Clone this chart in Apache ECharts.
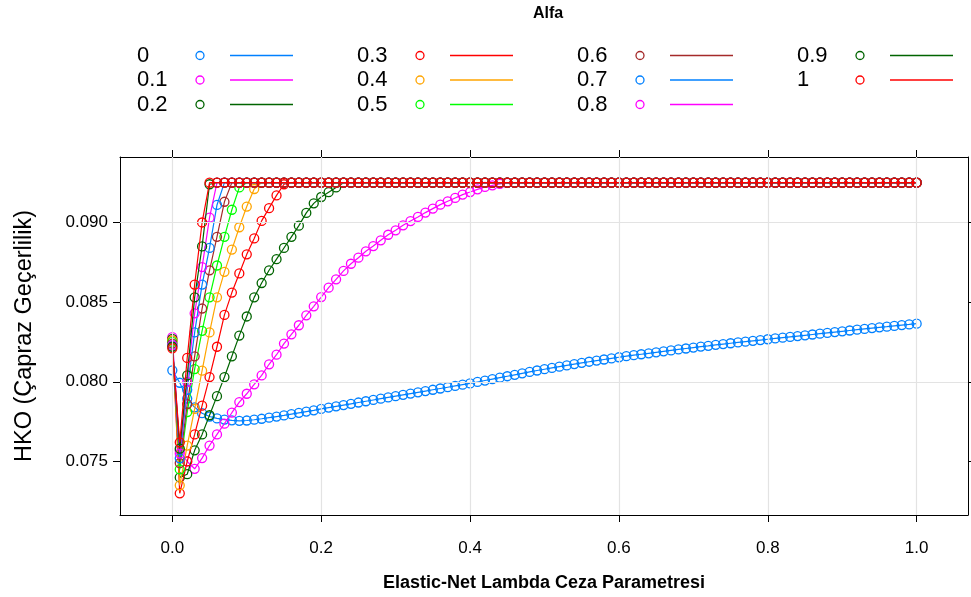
<!DOCTYPE html>
<html>
<head>
<meta charset="utf-8">
<script src="https://cdn.jsdelivr.net/npm/echarts@6/dist/echarts.min.js"></script>
<style>
  html, body { margin: 0; padding: 0; background: #ffffff; }
  #chart { width: 971px; height: 597px; }
</style>
</head>
<body>
<div id="chart"></div>
<script>
// Lambda grid of the elastic-net tuning run
const lambdaGrid = [
  0.00, 0.01, 0.02, 0.03, 0.04, 0.05, 0.06, 0.07, 0.08, 0.09,
  0.10, 0.11, 0.12, 0.13, 0.14, 0.15, 0.16, 0.17, 0.18, 0.19,
  0.20, 0.21, 0.22, 0.23, 0.24, 0.25, 0.26, 0.27, 0.28, 0.29,
  0.30, 0.31, 0.32, 0.33, 0.34, 0.35, 0.36, 0.37, 0.38, 0.39,
  0.40, 0.41, 0.42, 0.43, 0.44, 0.45, 0.46, 0.47, 0.48, 0.49,
  0.50, 0.51, 0.52, 0.53, 0.54, 0.55, 0.56, 0.57, 0.58, 0.59,
  0.60, 0.61, 0.62, 0.63, 0.64, 0.65, 0.66, 0.67, 0.68, 0.69,
  0.70, 0.71, 0.72, 0.73, 0.74, 0.75, 0.76, 0.77, 0.78, 0.79,
  0.80, 0.81, 0.82, 0.83, 0.84, 0.85, 0.86, 0.87, 0.88, 0.89,
  0.90, 0.91, 0.92, 0.93, 0.94, 0.95, 0.96, 0.97, 0.98, 0.99,
  1.00
];

const alfaLabels = ['0', '0.1', '0.2', '0.3', '0.4', '0.5', '0.6', '0.7', '0.8', '0.9', '1'];
const alfaColors = ['#0080ff', '#ff00ff', '#006400', '#ff0000', '#ffa500', '#00ff00',
                    '#a52a2a', '#0080ff', '#ff00ff', '#006400', '#ff0000'];

const xTicks = [0, 0.2, 0.4, 0.6, 0.8, 1.0];
const yTicks = [0.075, 0.080, 0.085, 0.090];

// Cross-validated HKO for each alpha, one value per lambda
const hkoAlfa00 = [
  0.08072, 0.07994, 0.07895, 0.07840, 0.07803, 0.07782, 0.07770, 0.07763, 0.07758, 0.07755,
  0.07757, 0.07762, 0.07768, 0.07775, 0.07782, 0.07789, 0.07797, 0.07805, 0.07813, 0.07821,
  0.07830, 0.07838, 0.07846, 0.07854, 0.07862, 0.07870, 0.07878, 0.07886, 0.07894, 0.07902,
  0.07910, 0.07918, 0.07926, 0.07934, 0.07942, 0.07950, 0.07958, 0.07966, 0.07974, 0.07982,
  0.07990, 0.07999, 0.08008, 0.08017, 0.08026, 0.08035, 0.08044, 0.08053, 0.08062, 0.08071,
  0.08079, 0.08087, 0.08095, 0.08103, 0.08111, 0.08119, 0.08126, 0.08133, 0.08140, 0.08147,
  0.08154, 0.08161, 0.08167, 0.08173, 0.08179, 0.08185, 0.08191, 0.08197, 0.08203, 0.08209,
  0.08215, 0.08221, 0.08226, 0.08232, 0.08237, 0.08242, 0.08247, 0.08252, 0.08257, 0.08262,
  0.08267, 0.08272, 0.08277, 0.08282, 0.08287, 0.08292, 0.08297, 0.08302, 0.08307, 0.08312,
  0.08317, 0.08322, 0.08327, 0.08332, 0.08337, 0.08342, 0.08346, 0.08351, 0.08356, 0.08360,
  0.08365
];

const hkoAlfa01 = [
  0.0828, 0.0757, 0.0750, 0.07454, 0.07521, 0.07600, 0.07670, 0.07737, 0.07806, 0.07873,
  0.07925, 0.07984, 0.08040, 0.08110, 0.08170, 0.08240, 0.08298, 0.08355, 0.08417, 0.08474,
  0.08532, 0.08591, 0.08643, 0.08696, 0.08741, 0.08779, 0.08819, 0.08852, 0.08888, 0.08923,
  0.08951, 0.08982, 0.09009, 0.09035, 0.09062, 0.09087, 0.09112, 0.09133, 0.09154, 0.09175,
  0.09191, 0.09208, 0.09223, 0.09233, 0.09242, 0.09248, 0.0925, 0.0925, 0.0925, 0.0925,
  0.0925, 0.0925, 0.0925, 0.0925, 0.0925, 0.0925, 0.0925, 0.0925, 0.0925, 0.0925,
  0.0925, 0.0925, 0.0925, 0.0925, 0.0925, 0.0925, 0.0925, 0.0925, 0.0925, 0.0925,
  0.0925, 0.0925, 0.0925, 0.0925, 0.0925, 0.0925, 0.0925, 0.0925, 0.0925, 0.0925,
  0.0925, 0.0925, 0.0925, 0.0925, 0.0925, 0.0925, 0.0925, 0.0925, 0.0925, 0.0925,
  0.0925, 0.0925, 0.0925, 0.0925, 0.0925, 0.0925, 0.0925, 0.0925, 0.0925, 0.0925,
  0.0925
];

const hkoAlfa02 = [
  0.0827, 0.0740, 0.0742, 0.0757, 0.0767, 0.0779, 0.0791, 0.0803, 0.0816, 0.0829,
  0.0841, 0.0853, 0.0862, 0.0870, 0.0877, 0.0884, 0.0891, 0.0898, 0.0906, 0.0912,
  0.0916, 0.0919, 0.0922, 0.0925, 0.0925, 0.0925, 0.0925, 0.0925, 0.0925, 0.0925,
  0.0925, 0.0925, 0.0925, 0.0925, 0.0925, 0.0925, 0.0925, 0.0925, 0.0925, 0.0925,
  0.0925, 0.0925, 0.0925, 0.0925, 0.0925, 0.0925, 0.0925, 0.0925, 0.0925, 0.0925,
  0.0925, 0.0925, 0.0925, 0.0925, 0.0925, 0.0925, 0.0925, 0.0925, 0.0925, 0.0925,
  0.0925, 0.0925, 0.0925, 0.0925, 0.0925, 0.0925, 0.0925, 0.0925, 0.0925, 0.0925,
  0.0925, 0.0925, 0.0925, 0.0925, 0.0925, 0.0925, 0.0925, 0.0925, 0.0925, 0.0925,
  0.0925, 0.0925, 0.0925, 0.0925, 0.0925, 0.0925, 0.0925, 0.0925, 0.0925, 0.0925,
  0.0925, 0.0925, 0.0925, 0.0925, 0.0925, 0.0925, 0.0925, 0.0925, 0.0925, 0.0925,
  0.0925
];

const hkoAlfa03 = [
  0.0826, 0.0730, 0.0750, 0.0767, 0.0785, 0.0803, 0.0822, 0.0842, 0.0856, 0.0868,
  0.0880, 0.0890, 0.0901, 0.0909, 0.0917, 0.0924, 0.0925, 0.0925, 0.0925, 0.0925,
  0.0925, 0.0925, 0.0925, 0.0925, 0.0925, 0.0925, 0.0925, 0.0925, 0.0925, 0.0925,
  0.0925, 0.0925, 0.0925, 0.0925, 0.0925, 0.0925, 0.0925, 0.0925, 0.0925, 0.0925,
  0.0925, 0.0925, 0.0925, 0.0925, 0.0925, 0.0925, 0.0925, 0.0925, 0.0925, 0.0925,
  0.0925, 0.0925, 0.0925, 0.0925, 0.0925, 0.0925, 0.0925, 0.0925, 0.0925, 0.0925,
  0.0925, 0.0925, 0.0925, 0.0925, 0.0925, 0.0925, 0.0925, 0.0925, 0.0925, 0.0925,
  0.0925, 0.0925, 0.0925, 0.0925, 0.0925, 0.0925, 0.0925, 0.0925, 0.0925, 0.0925,
  0.0925, 0.0925, 0.0925, 0.0925, 0.0925, 0.0925, 0.0925, 0.0925, 0.0925, 0.0925,
  0.0925, 0.0925, 0.0925, 0.0925, 0.0925, 0.0925, 0.0925, 0.0925, 0.0925, 0.0925,
  0.0925
];

const hkoAlfa04 = [
  0.0826, 0.0735, 0.0760, 0.0783, 0.0807, 0.0831, 0.0853, 0.0869, 0.0883, 0.0897,
  0.0910, 0.0921, 0.0925, 0.0925, 0.0925, 0.0925, 0.0925, 0.0925, 0.0925, 0.0925,
  0.0925, 0.0925, 0.0925, 0.0925, 0.0925, 0.0925, 0.0925, 0.0925, 0.0925, 0.0925,
  0.0925, 0.0925, 0.0925, 0.0925, 0.0925, 0.0925, 0.0925, 0.0925, 0.0925, 0.0925,
  0.0925, 0.0925, 0.0925, 0.0925, 0.0925, 0.0925, 0.0925, 0.0925, 0.0925, 0.0925,
  0.0925, 0.0925, 0.0925, 0.0925, 0.0925, 0.0925, 0.0925, 0.0925, 0.0925, 0.0925,
  0.0925, 0.0925, 0.0925, 0.0925, 0.0925, 0.0925, 0.0925, 0.0925, 0.0925, 0.0925,
  0.0925, 0.0925, 0.0925, 0.0925, 0.0925, 0.0925, 0.0925, 0.0925, 0.0925, 0.0925,
  0.0925, 0.0925, 0.0925, 0.0925, 0.0925, 0.0925, 0.0925, 0.0925, 0.0925, 0.0925,
  0.0925, 0.0925, 0.0925, 0.0925, 0.0925, 0.0925, 0.0925, 0.0925, 0.0925, 0.0925,
  0.0925
];

const hkoAlfa05 = [
  0.0825, 0.0745, 0.0781, 0.0808, 0.0832, 0.0853, 0.0873, 0.0891, 0.0908, 0.0922,
  0.0925, 0.0925, 0.0925, 0.0925, 0.0925, 0.0925, 0.0925, 0.0925, 0.0925, 0.0925,
  0.0925, 0.0925, 0.0925, 0.0925, 0.0925, 0.0925, 0.0925, 0.0925, 0.0925, 0.0925,
  0.0925, 0.0925, 0.0925, 0.0925, 0.0925, 0.0925, 0.0925, 0.0925, 0.0925, 0.0925,
  0.0925, 0.0925, 0.0925, 0.0925, 0.0925, 0.0925, 0.0925, 0.0925, 0.0925, 0.0925,
  0.0925, 0.0925, 0.0925, 0.0925, 0.0925, 0.0925, 0.0925, 0.0925, 0.0925, 0.0925,
  0.0925, 0.0925, 0.0925, 0.0925, 0.0925, 0.0925, 0.0925, 0.0925, 0.0925, 0.0925,
  0.0925, 0.0925, 0.0925, 0.0925, 0.0925, 0.0925, 0.0925, 0.0925, 0.0925, 0.0925,
  0.0925, 0.0925, 0.0925, 0.0925, 0.0925, 0.0925, 0.0925, 0.0925, 0.0925, 0.0925,
  0.0925, 0.0925, 0.0925, 0.0925, 0.0925, 0.0925, 0.0925, 0.0925, 0.0925, 0.0925,
  0.0925
];

const hkoAlfa06 = [
  0.0824, 0.0749, 0.0786, 0.0816, 0.0846, 0.0870, 0.0891, 0.0913, 0.0925, 0.0925,
  0.0925, 0.0925, 0.0925, 0.0925, 0.0925, 0.0925, 0.0925, 0.0925, 0.0925, 0.0925,
  0.0925, 0.0925, 0.0925, 0.0925, 0.0925, 0.0925, 0.0925, 0.0925, 0.0925, 0.0925,
  0.0925, 0.0925, 0.0925, 0.0925, 0.0925, 0.0925, 0.0925, 0.0925, 0.0925, 0.0925,
  0.0925, 0.0925, 0.0925, 0.0925, 0.0925, 0.0925, 0.0925, 0.0925, 0.0925, 0.0925,
  0.0925, 0.0925, 0.0925, 0.0925, 0.0925, 0.0925, 0.0925, 0.0925, 0.0925, 0.0925,
  0.0925, 0.0925, 0.0925, 0.0925, 0.0925, 0.0925, 0.0925, 0.0925, 0.0925, 0.0925,
  0.0925, 0.0925, 0.0925, 0.0925, 0.0925, 0.0925, 0.0925, 0.0925, 0.0925, 0.0925,
  0.0925, 0.0925, 0.0925, 0.0925, 0.0925, 0.0925, 0.0925, 0.0925, 0.0925, 0.0925,
  0.0925, 0.0925, 0.0925, 0.0925, 0.0925, 0.0925, 0.0925, 0.0925, 0.0925, 0.0925,
  0.0925
];

const hkoAlfa07 = [
  0.0823, 0.0752, 0.0795, 0.0831, 0.0861, 0.0884, 0.0911, 0.0925, 0.0925, 0.0925,
  0.0925, 0.0925, 0.0925, 0.0925, 0.0925, 0.0925, 0.0925, 0.0925, 0.0925, 0.0925,
  0.0925, 0.0925, 0.0925, 0.0925, 0.0925, 0.0925, 0.0925, 0.0925, 0.0925, 0.0925,
  0.0925, 0.0925, 0.0925, 0.0925, 0.0925, 0.0925, 0.0925, 0.0925, 0.0925, 0.0925,
  0.0925, 0.0925, 0.0925, 0.0925, 0.0925, 0.0925, 0.0925, 0.0925, 0.0925, 0.0925,
  0.0925, 0.0925, 0.0925, 0.0925, 0.0925, 0.0925, 0.0925, 0.0925, 0.0925, 0.0925,
  0.0925, 0.0925, 0.0925, 0.0925, 0.0925, 0.0925, 0.0925, 0.0925, 0.0925, 0.0925,
  0.0925, 0.0925, 0.0925, 0.0925, 0.0925, 0.0925, 0.0925, 0.0925, 0.0925, 0.0925,
  0.0925, 0.0925, 0.0925, 0.0925, 0.0925, 0.0925, 0.0925, 0.0925, 0.0925, 0.0925,
  0.0925, 0.0925, 0.0925, 0.0925, 0.0925, 0.0925, 0.0925, 0.0925, 0.0925, 0.0925,
  0.0925
];

const hkoAlfa08 = [
  0.0823, 0.0755, 0.0800, 0.0843, 0.0872, 0.0903, 0.0925, 0.0925, 0.0925, 0.0925,
  0.0925, 0.0925, 0.0925, 0.0925, 0.0925, 0.0925, 0.0925, 0.0925, 0.0925, 0.0925,
  0.0925, 0.0925, 0.0925, 0.0925, 0.0925, 0.0925, 0.0925, 0.0925, 0.0925, 0.0925,
  0.0925, 0.0925, 0.0925, 0.0925, 0.0925, 0.0925, 0.0925, 0.0925, 0.0925, 0.0925,
  0.0925, 0.0925, 0.0925, 0.0925, 0.0925, 0.0925, 0.0925, 0.0925, 0.0925, 0.0925,
  0.0925, 0.0925, 0.0925, 0.0925, 0.0925, 0.0925, 0.0925, 0.0925, 0.0925, 0.0925,
  0.0925, 0.0925, 0.0925, 0.0925, 0.0925, 0.0925, 0.0925, 0.0925, 0.0925, 0.0925,
  0.0925, 0.0925, 0.0925, 0.0925, 0.0925, 0.0925, 0.0925, 0.0925, 0.0925, 0.0925,
  0.0925, 0.0925, 0.0925, 0.0925, 0.0925, 0.0925, 0.0925, 0.0925, 0.0925, 0.0925,
  0.0925, 0.0925, 0.0925, 0.0925, 0.0925, 0.0925, 0.0925, 0.0925, 0.0925, 0.0925,
  0.0925
];

const hkoAlfa09 = [
  0.0822, 0.0758, 0.0804, 0.0853, 0.0885, 0.0924, 0.0925, 0.0925, 0.0925, 0.0925,
  0.0925, 0.0925, 0.0925, 0.0925, 0.0925, 0.0925, 0.0925, 0.0925, 0.0925, 0.0925,
  0.0925, 0.0925, 0.0925, 0.0925, 0.0925, 0.0925, 0.0925, 0.0925, 0.0925, 0.0925,
  0.0925, 0.0925, 0.0925, 0.0925, 0.0925, 0.0925, 0.0925, 0.0925, 0.0925, 0.0925,
  0.0925, 0.0925, 0.0925, 0.0925, 0.0925, 0.0925, 0.0925, 0.0925, 0.0925, 0.0925,
  0.0925, 0.0925, 0.0925, 0.0925, 0.0925, 0.0925, 0.0925, 0.0925, 0.0925, 0.0925,
  0.0925, 0.0925, 0.0925, 0.0925, 0.0925, 0.0925, 0.0925, 0.0925, 0.0925, 0.0925,
  0.0925, 0.0925, 0.0925, 0.0925, 0.0925, 0.0925, 0.0925, 0.0925, 0.0925, 0.0925,
  0.0925, 0.0925, 0.0925, 0.0925, 0.0925, 0.0925, 0.0925, 0.0925, 0.0925, 0.0925,
  0.0925, 0.0925, 0.0925, 0.0925, 0.0925, 0.0925, 0.0925, 0.0925, 0.0925, 0.0925,
  0.0925
];

const hkoAlfa10 = [
  0.0821, 0.0762, 0.0815, 0.0861, 0.0900, 0.0925, 0.0925, 0.0925, 0.0925, 0.0925,
  0.0925, 0.0925, 0.0925, 0.0925, 0.0925, 0.0925, 0.0925, 0.0925, 0.0925, 0.0925,
  0.0925, 0.0925, 0.0925, 0.0925, 0.0925, 0.0925, 0.0925, 0.0925, 0.0925, 0.0925,
  0.0925, 0.0925, 0.0925, 0.0925, 0.0925, 0.0925, 0.0925, 0.0925, 0.0925, 0.0925,
  0.0925, 0.0925, 0.0925, 0.0925, 0.0925, 0.0925, 0.0925, 0.0925, 0.0925, 0.0925,
  0.0925, 0.0925, 0.0925, 0.0925, 0.0925, 0.0925, 0.0925, 0.0925, 0.0925, 0.0925,
  0.0925, 0.0925, 0.0925, 0.0925, 0.0925, 0.0925, 0.0925, 0.0925, 0.0925, 0.0925,
  0.0925, 0.0925, 0.0925, 0.0925, 0.0925, 0.0925, 0.0925, 0.0925, 0.0925, 0.0925,
  0.0925, 0.0925, 0.0925, 0.0925, 0.0925, 0.0925, 0.0925, 0.0925, 0.0925, 0.0925,
  0.0925, 0.0925, 0.0925, 0.0925, 0.0925, 0.0925, 0.0925, 0.0925, 0.0925, 0.0925,
  0.0925
];

const hkoByAlfa = [hkoAlfa00, hkoAlfa01, hkoAlfa02, hkoAlfa03, hkoAlfa04, hkoAlfa05,
                   hkoAlfa06, hkoAlfa07, hkoAlfa08, hkoAlfa09, hkoAlfa10];

const FONT = '"Liberation Sans", Arial, sans-serif';
const X_MIN = -0.0703, X_MAX = 1.069;
const Y_MIN = 0.07164, Y_MAX = 0.09411;

// Plot panel geometry (pixels)
const PANEL = { left: 120, top: 157, width: 848, height: 358 };

function tickAxisCommon(ticks, fmt, showLabels, extra) {
  return Object.assign({
    type: 'value',
    axisLine: { show: true, onZero: false, lineStyle: { color: '#000', width: 1 } },
    axisTick: { show: true, inside: false, length: 7, customValues: ticks,
                lineStyle: { color: '#000', width: 1 } },
    axisLabel: { show: showLabels, customValues: ticks, formatter: fmt,
                 color: '#000', fontSize: 17, fontFamily: FONT },
    splitLine: { show: false },
    axisPointer: { show: false }
  }, extra);
}

// Grid lines drawn as reference lines at the tick values
const gridSeries = {
  type: 'line',
  data: [],
  z: 1,
  silent: true,
  xAxisIndex: 0,
  yAxisIndex: 0,
  markLine: {
    silent: true,
    animation: false,
    symbol: ['none', 'none'],
    label: { show: false },
    emphasis: { disabled: true },
    lineStyle: { color: '#e3e3e3', width: 1.2, type: 'solid' },
    data: xTicks.map(v => ({ xAxis: v })).concat(yTicks.map(v => ({ yAxis: v })))
  }
};

const lineSeries = hkoByAlfa.map((vals, i) => ({
  type: 'line',
  name: alfaLabels[i],
  data: lambdaGrid.map((l, j) => [l, vals[j]]),
  xAxisIndex: 0,
  yAxisIndex: 0,
  z: 2 + i * 0.01,
  symbol: 'circle',
  symbolSize: 9,
  showSymbol: true,
  showAllSymbol: true,
  animation: false,
  silent: true,
  lineStyle: { color: alfaColors[i], width: 1.2 },
  itemStyle: { color: 'rgba(0,0,0,0)', borderColor: alfaColors[i], borderWidth: 1.3 },
  emphasis: { disabled: true }
}));

// Key: label, open circle and line segment for each alpha, in four columns
const keyElements = [{
  type: 'text', x: 548, y: 14,
  style: { text: 'Alfa', fill: '#000', fontSize: 16, fontWeight: 'bold', fontFamily: FONT,
           textAlign: 'center', textVerticalAlign: 'middle' }
}];
alfaLabels.forEach((lab, i) => {
  const col = Math.floor(i / 3), row = i % 3;
  const cy = 55.5 + row * 24.5;
  const x0 = 137 + col * 220;
  keyElements.push({
    type: 'text', x: x0, y: cy,
    style: { text: lab, fill: '#000', fontSize: 22, fontFamily: FONT,
             textAlign: 'left', textVerticalAlign: 'middle' }
  });
  keyElements.push({
    type: 'circle', shape: { cx: x0 + 63, cy: cy, r: 4 },
    style: { fill: 'none', stroke: alfaColors[i], lineWidth: 1.3 }
  });
  keyElements.push({
    type: 'line', shape: { x1: x0 + 93, y1: cy, x2: x0 + 156, y2: cy },
    style: { stroke: alfaColors[i], lineWidth: 1.6 }
  });
});

const chart = echarts.init(document.getElementById('chart'), null, { renderer: 'canvas' });
chart.setOption({
  animation: false,
  backgroundColor: '#ffffff',
  textStyle: { fontFamily: FONT },
  grid: { left: PANEL.left, top: PANEL.top, width: PANEL.width, height: PANEL.height,
          containLabel: false },
  xAxis: [
    tickAxisCommon(xTicks, v => v.toFixed(1), true, {
      position: 'bottom', min: X_MIN, max: X_MAX,
      axisLabel: { show: true, customValues: xTicks, formatter: v => v.toFixed(1),
                   color: '#000', fontSize: 17, fontFamily: FONT, margin: 25 },
      name: 'Elastic-Net Lambda Ceza Parametresi',
      nameLocation: 'middle', nameGap: 59,
      nameTextStyle: { color: '#000', fontSize: 18, fontWeight: 'bold', fontFamily: FONT }
    }),
    tickAxisCommon(xTicks, v => v.toFixed(1), false, {
      position: 'top', min: X_MIN, max: X_MAX
    })
  ],
  yAxis: [
    tickAxisCommon(yTicks, v => v.toFixed(3), true, {
      position: 'left', min: Y_MIN, max: Y_MAX,
      axisLabel: { show: true, customValues: yTicks, formatter: v => v.toFixed(3),
                   color: '#000', fontSize: 17, fontFamily: FONT, margin: 12 },
      name: 'HKO (Çapraz Geçerlilik)',
      nameLocation: 'middle', nameGap: 83, nameRotate: 90,
      nameTextStyle: { color: '#000', fontSize: 23.5, fontFamily: FONT }
    }),
    tickAxisCommon(yTicks, v => v.toFixed(3), false, {
      position: 'right', min: Y_MIN, max: Y_MAX
    })
  ],
  graphic: keyElements,
  series: [gridSeries].concat(lineSeries)
});
</script>
</body>
</html>
